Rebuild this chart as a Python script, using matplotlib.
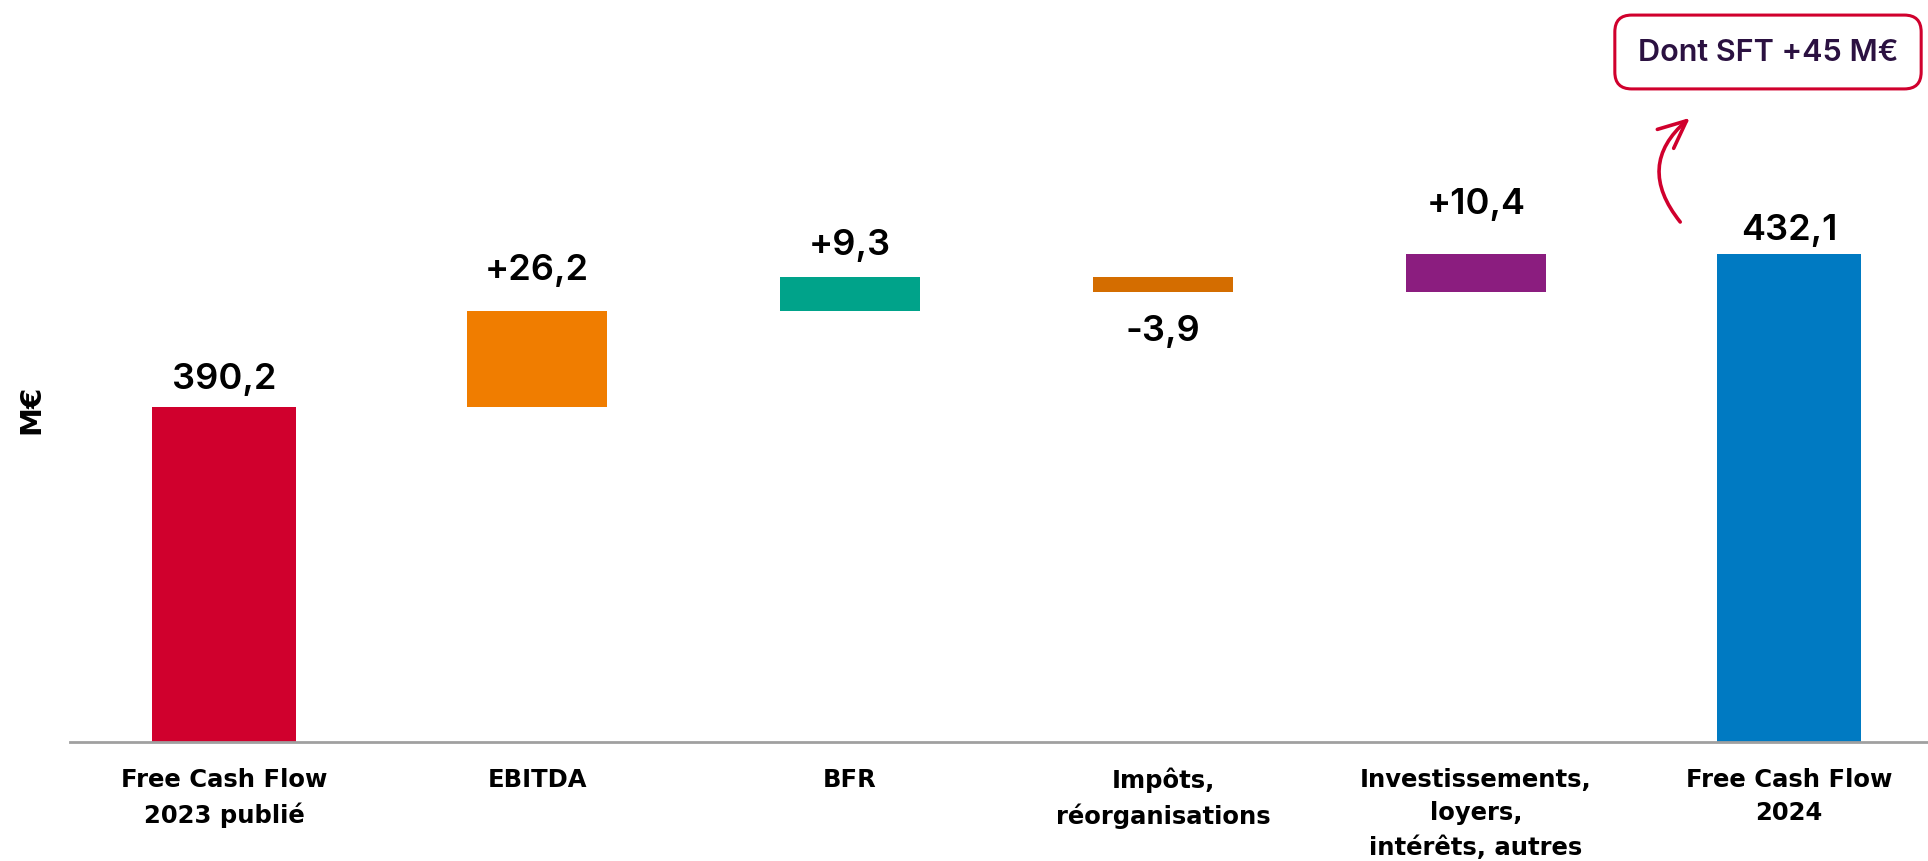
import matplotlib
matplotlib.use("Agg")
import matplotlib.pyplot as plt
from matplotlib.patches import FancyArrowPatch

# data
categories = [
    "Free Cash Flow\n2023 publié",
    "EBITDA",
    "BFR",
    "Impôts,\nréorganisations",
    "Investissements,\nloyers,\nintérêts, autres",
    "Free Cash Flow\n2024",
]
start_value = 390.2
deltas = [26.2, 9.3, -3.9, 10.4]
end_value = 432.1
value_labels = ["390,2", "+26,2", "+9,3", "-3,9", "+10,4", "432,1"]
note_text = "Dont SFT +45 M€"

bar_colors = ["#D0002D", "#F07D00", "#00A38A", "#D46D00", "#8B1D7F", "#007AC2"]
label_pads = [14, 23, 17, 16, 29, 11]  # points between bar and label

fig = plt.figure(figsize=(19.28, 8.62), dpi=100)
ax = fig.add_axes([70 / 1928, 119 / 862, 1858 / 1928, 743 / 862])
ymin = 298.5
ax.set_ylim(ymin, ymin + 743 / 3.652)
ax.set_xlim(-0.492, 5.444)

# build waterfall segments
bottoms = [ymin]
heights = [start_value - ymin]
running = start_value
for d in deltas:
    bottoms.append(min(running, running + d))
    heights.append(abs(d))
    running += d
bottoms.append(ymin)
heights.append(end_value - ymin)

xs = list(range(len(categories)))
widths = [0.46, 0.445, 0.445, 0.445, 0.445, 0.46]
ax.bar(xs, heights, bottom=bottoms, width=widths, color=bar_colors, zorder=2)

# value labels
signs = [1] + [1 if d >= 0 else -1 for d in deltas] + [1]
for x, b, h, s, txt, pad in zip(xs, bottoms, heights, signs, value_labels, label_pads):
    if s > 0:
        ax.annotate(txt, (x, b + h), xytext=(0, pad), textcoords="offset points",
                    ha="center", va="baseline", fontsize=26, fontfamily="Inter",
                    fontweight="semibold", color="black")
    else:
        ax.annotate(txt, (x, b), xytext=(0, -pad), textcoords="offset points",
                    ha="center", va="top", fontsize=26, fontfamily="Inter",
                    fontweight="semibold", color="black")

# axes styling
for side in ["top", "right", "left", "bottom"]:
    ax.spines[side].set_visible(False)
ax.axhline(ymin, color="#A0A0A0", lw=2, zorder=3, clip_on=False)
ax.set_yticks([])
ax.set_xticks(xs)
ax.set_xticklabels(categories, fontsize=17.5, fontweight="bold", fontfamily="DejaVu Sans",
                   linespacing=1.5, va="top")
ax.tick_params(axis="x", length=0, pad=18)

fig.text(31 / 1928, 1 - 409 / 862, "M€", rotation=90, ha="center", va="center",
         fontsize=21, fontweight="bold", fontfamily="DejaVu Sans")

# callout note
fig.text(1768 / 1928, 1 - 53 / 862, note_text, ha="center", va="center",
         fontsize=22, fontfamily="Inter", fontweight="semibold", color="#2B1141",
         bbox=dict(boxstyle="round,pad=0.75,rounding_size=0.55", fc="white",
                   ec="#D0002D", lw=2.2))

arrow = FancyArrowPatch((4.658, 440.3), (4.69, 469.9),
                        connectionstyle="arc3,rad=-0.5",
                        arrowstyle="->,head_length=20,head_width=9",
                        color="#D0002D", lw=2.6, clip_on=False)
ax.add_patch(arrow)

fig.savefig("out.png", dpi=100)
